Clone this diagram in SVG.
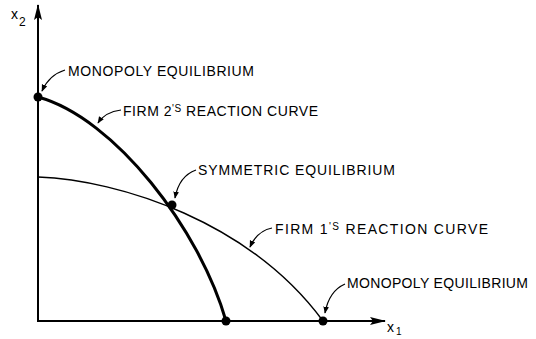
<svg xmlns="http://www.w3.org/2000/svg" width="536" height="339" viewBox="0 0 536 339">
<style>
.lbl{font-family:"Liberation Sans",Arial,sans-serif;font-size:14px;fill:#000}
.ax{stroke:#000;stroke-width:2;fill:none}
.lead{stroke:#000;stroke-width:1.2;fill:none;marker-end:url(#ah)}
.dot{fill:#000}
</style>
<defs>
<marker id="ah" viewBox="0 0 10 10" refX="9" refY="5" markerWidth="7" markerHeight="7" markerUnits="userSpaceOnUse" orient="auto">
<path d="M0,1 L10,5 L0,9 Z" fill="#000"/>
</marker>
<marker id="axh" viewBox="0 0 16 8" refX="15" refY="4" markerWidth="16" markerHeight="8" markerUnits="userSpaceOnUse" orient="auto">
<path d="M0,0 L16,4 L0,8 L3,4 Z" fill="#000"/>
</marker>
</defs>
<g id="axes">
<path class="ax" d="M38,322 L38,5" marker-end="url(#axh)"/>
<path class="ax" d="M37,321 L385,321" stroke-width="2.4" marker-end="url(#axh)"/>
<text class="lbl" x="11" y="19" font-size="10">x<tspan font-size="12" dx="1" dy="7">2</tspan></text>
<text class="lbl" x="387" y="332" font-size="10">x<tspan font-size="10" dx="2" dy="3">1</tspan></text>
</g>
<g id="curves">
<path id="firm2" d="M38,97 C115,118 200,230 226,321" stroke="#000" stroke-width="3" fill="none"/>
<path id="firm1" d="M38,177 C120,180 250,222 323,321" stroke="#000" stroke-width="1.4" fill="none"/>
</g>
<g id="points">
<circle class="dot" cx="38" cy="97" r="4.5"/>
<circle class="dot" cx="172" cy="205" r="4.5"/>
<circle class="dot" cx="226" cy="321" r="4.5"/>
<circle class="dot" cx="323" cy="321" r="4.5"/>
</g>
<g id="connectors">
<path class="lead" d="M65,70 Q49,75 42,91"/>
<path class="lead" d="M121,110 Q105,112 98,123"/>
<path class="lead" d="M196,170 Q179,176 175,198"/>
<path class="lead" d="M272,228 Q257,231 250,247"/>
<path class="lead" d="M345,284 Q329,291 325,313"/>
</g>
<g id="label-monopoly-top"><text class="lbl" x="68" y="76" textLength="186" lengthAdjust="spacing">MONOPOLY EQUILIBRIUM</text></g>
<g id="label-firm2"><text class="lbl" x="123" y="116" textLength="195" lengthAdjust="spacing">FIRM 2<tspan font-size="10" dy="-4">'S</tspan><tspan dy="4"> REACTION CURVE</tspan></text></g>
<g id="label-symmetric"><text class="lbl" x="198" y="175" textLength="197" lengthAdjust="spacing">SYMMETRIC EQUILIBRIUM</text></g>
<g id="label-firm1"><text class="lbl" x="275" y="234" textLength="213" lengthAdjust="spacing">FIRM 1<tspan font-size="10" dy="-4">'S</tspan><tspan dy="4"> REACTION CURVE</tspan></text></g>
<g id="label-monopoly-bottom"><text class="lbl" x="347" y="288" textLength="181" lengthAdjust="spacing">MONOPOLY EQUILIBRIUM</text></g>
</svg>
